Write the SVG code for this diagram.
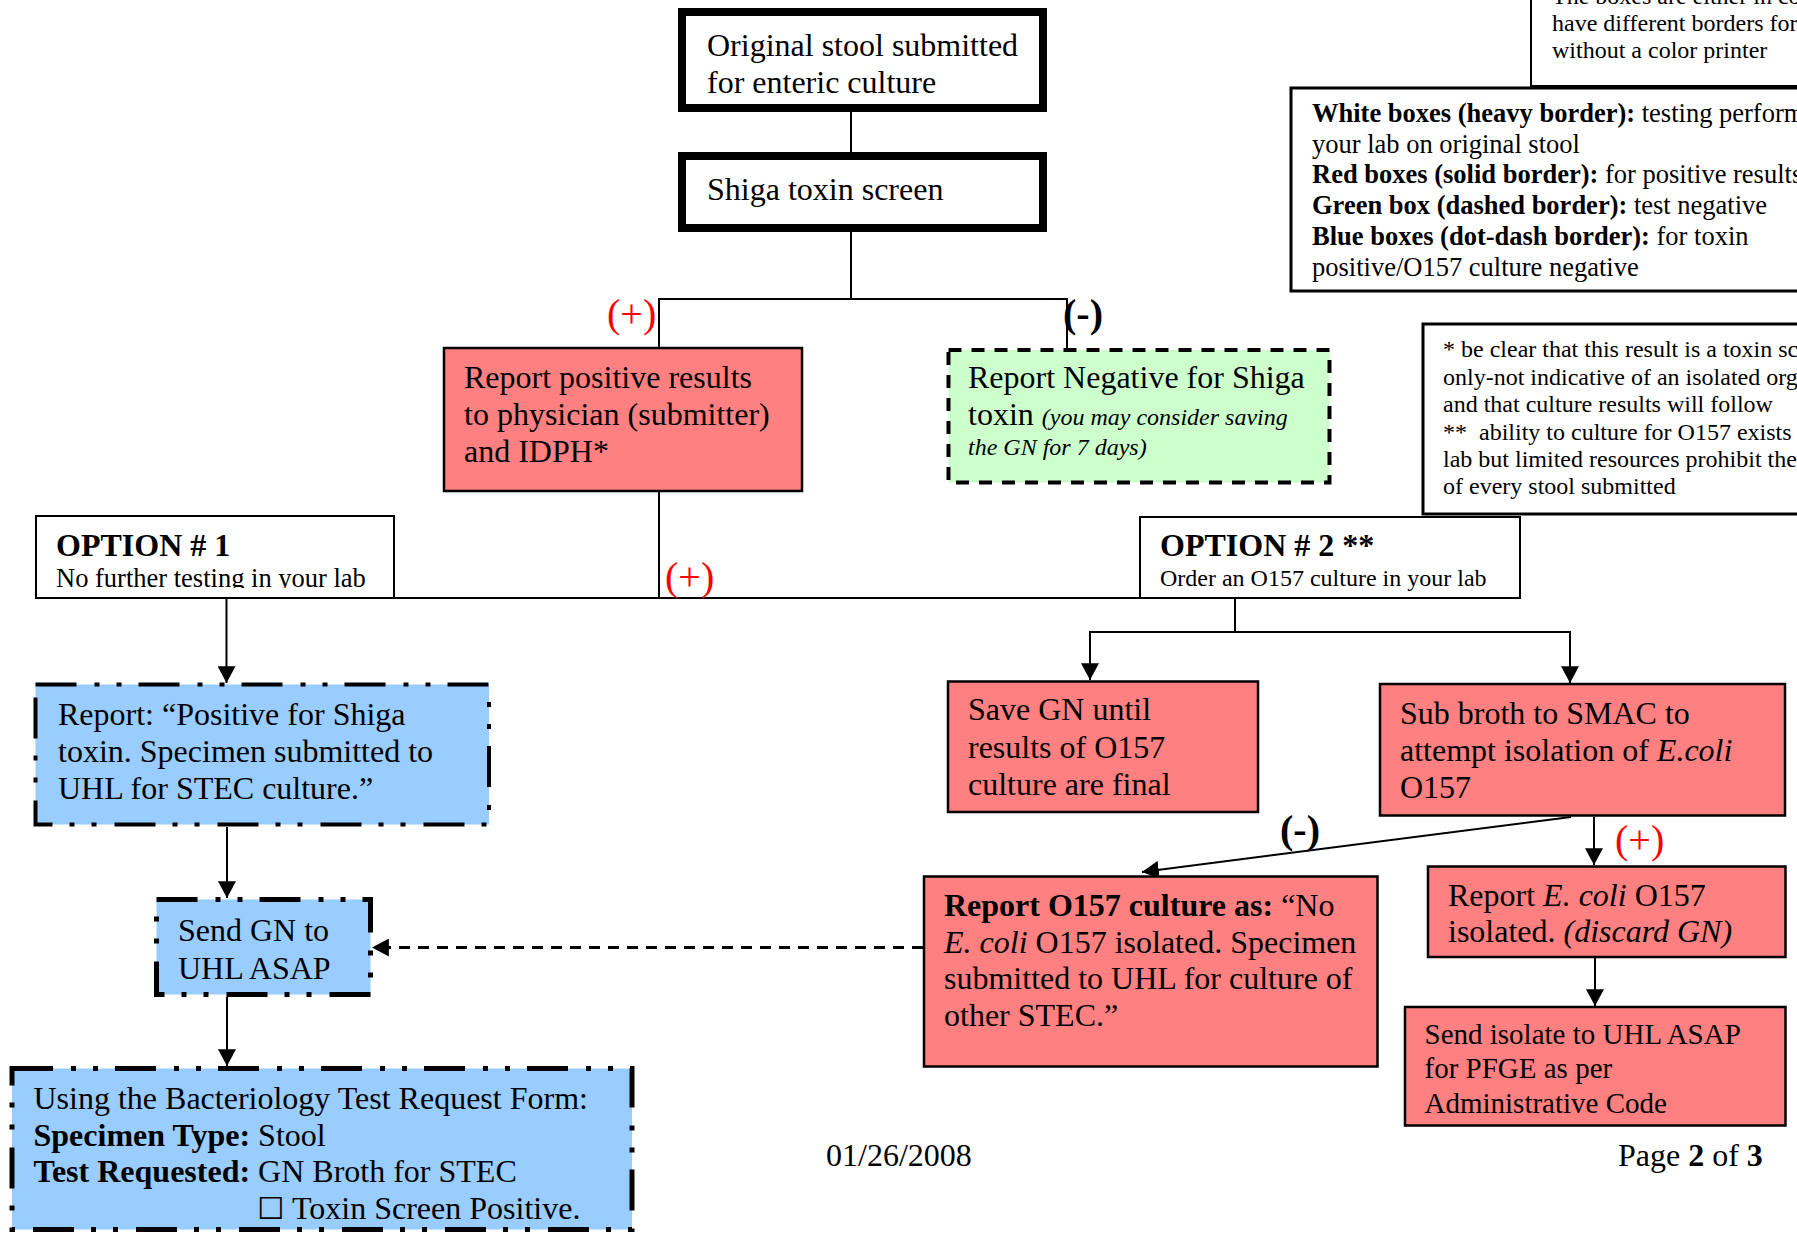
<svg xmlns="http://www.w3.org/2000/svg" width="1797" height="1233" viewBox="0 0 1797 1233">
<style>
text { font-family: "Liberation Serif", "Times New Roman", serif; font-size: 32px; fill: #000; }
.s24 { font-size: 24px; }
.s26 { font-size: 26.5px; }
.s29 { font-size: 29px; }
.lab { font-size: 40px; }
.red { fill: #FF0000; }
.b { font-weight: bold; }
.i { font-style: italic; }
.heavy { fill: #FFFFFF; stroke: #000; stroke-width: 8; }
.thin { fill: #FFFFFF; stroke: #000; stroke-width: 2; }
.note { fill: #FFFFFF; stroke: #000; stroke-width: 3; }
.pos { fill: #FF8080; stroke: #000; stroke-width: 2.5; }
.neg { fill: #CCFFCC; stroke: #000; stroke-width: 4; stroke-dasharray: 13 10; }
.blue { fill: #99CCFF; stroke: #000; stroke-dasharray: 41 18 5 17 5 17; }
.conn { fill: none; stroke: #000; stroke-width: 2; }
.dash { stroke-width: 3; stroke-dasharray: 11 8; }
</style>
<defs>
<marker id="arr" markerUnits="userSpaceOnUse" markerWidth="18" markerHeight="18" refX="15" refY="8" orient="auto" viewBox="0 0 16 16">
<path d="M0,0 L15,8 L0,16 Z" fill="#000"/>
</marker>
<clipPath id="clip1"><rect x="36" y="516" width="358" height="72"/></clipPath>
</defs>

<g id="connectors">
<line class="conn" x1="851" y1="112" x2="851" y2="152"/>
<polyline class="conn" points="659,347 659,299 1067,299 1067,348"/>
<line class="conn" x1="851" y1="232" x2="851" y2="299"/>
<line class="conn" x1="659" y1="492" x2="659" y2="598"/>
<line class="conn" x1="35" y1="598" x2="1140" y2="598" stroke-width="2.5"/>
<line class="conn" x1="226.5" y1="598" x2="226.5" y2="683" marker-end="url(#arr)"/>
<line class="conn" x1="1235" y1="598" x2="1235" y2="632"/>
<line class="conn" x1="1089" y1="632" x2="1571" y2="632"/>
<line class="conn" x1="1090" y1="632" x2="1090" y2="680" marker-end="url(#arr)"/>
<line class="conn" x1="1570" y1="632" x2="1570" y2="683" marker-end="url(#arr)"/>
<line class="conn" x1="227" y1="827" x2="227" y2="898" marker-end="url(#arr)"/>
<line class="conn" x1="227" y1="997" x2="227" y2="1066" marker-end="url(#arr)"/>
<line class="conn dash" x1="923" y1="947.5" x2="372" y2="947.5" marker-end="url(#arr)"/>
<line class="conn" x1="1571" y1="817" x2="1142" y2="872" stroke-width="2.5" marker-end="url(#arr)"/>
<line class="conn" x1="1594" y1="817" x2="1594" y2="865" marker-end="url(#arr)"/>
<line class="conn" x1="1595" y1="958" x2="1595" y2="1006" marker-end="url(#arr)"/>
<text class="lab red" x="607" y="327">(+)</text>
<text class="lab b" x="1063" y="327">(-)</text>
<text class="lab red" x="665" y="590">(+)</text>
<text class="lab b" x="1280" y="843">(-)</text>
<text class="lab red" x="1615" y="853">(+)</text>
</g>

<g id="colorNote">
<rect class="thin" x="1531" y="-10" width="400" height="96"/>
<text class="s24" x="1552" y="4">The boxes are either in co</text>
<text class="s24" x="1552" y="31">have different borders for</text>
<text class="s24" x="1552" y="58">without a color printer</text>
</g>

<g id="legend">
<rect class="note" x="1291" y="88" width="600" height="203"/>
<text class="s26" x="1312" y="122"><tspan class="b">White boxes (heavy border):</tspan> testing perform</text>
<text class="s26" x="1312" y="152.5">your lab on original stool</text>
<text class="s26" x="1312" y="183"><tspan class="b">Red boxes (solid border):</tspan> for positive results</text>
<text class="s26" x="1312" y="214"><tspan class="b">Green box (dashed border):</tspan> test negative</text>
<text class="s26" x="1312" y="245"><tspan class="b">Blue boxes (dot-dash border):</tspan> for toxin</text>
<text class="s26" x="1312" y="275.5">positive/O157 culture negative</text>
</g>

<g id="footnotes">
<rect class="note" x="1423" y="324" width="500" height="190"/>
<text class="s24" x="1443" y="357">* be clear that this result is a toxin sc</text>
<text class="s24" x="1443" y="384.5">only-not indicative of an isolated org</text>
<text class="s24" x="1443" y="412">and that culture results will follow</text>
<text class="s24" x="1443" y="440">**&#160; ability to culture for O157 exists</text>
<text class="s24" x="1443" y="467">lab but limited resources prohibit the</text>
<text class="s24" x="1443" y="494">of every stool submitted</text>
</g>

<g id="original">
<rect class="heavy" x="682" y="12" width="361" height="96"/>
<text x="707" y="56">Original stool submitted</text>
<text x="707" y="93">for enteric culture</text>
</g>

<g id="shigaScreen">
<rect class="heavy" x="682" y="156" width="361" height="72"/>
<text x="707" y="200">Shiga toxin screen</text>
</g>

<g id="reportPositive">
<rect class="pos" x="444" y="348" width="358" height="143"/>
<text x="464" y="387.5">Report positive results</text>
<text x="464" y="424.5">to physician (submitter)</text>
<text x="464" y="462">and IDPH*</text>
</g>

<g id="reportNegative">
<rect class="neg" x="948.5" y="350" width="381" height="132.5"/>
<text x="968" y="388">Report Negative for Shiga</text>
<text x="968" y="425">toxin <tspan class="s24 i">(you may consider saving</tspan></text>
<text class="s24 i" x="968" y="455">the GN for 7 days)</text>
</g>

<g id="option1">
<rect class="thin" x="36" y="516" width="358" height="82"/>
<text class="b" x="56" y="556">OPTION # 1</text>
<text class="s26" x="56" y="586.5" clip-path="url(#clip1)">No further testing in your lab</text>
</g>

<g id="option2">
<rect class="thin" x="1140" y="517" width="380" height="81"/>
<text class="b" x="1160" y="555.5">OPTION # 2 **</text>
<text class="s24" x="1160" y="585.5">Order an O157 culture in your lab</text>
</g>

<g id="reportToxinPositive">
<rect class="blue" stroke-width="4" x="35.5" y="684.5" width="453.5" height="140"/>
<text x="58" y="725">Report: “Positive for Shiga</text>
<text x="58" y="762">toxin. Specimen submitted to</text>
<text x="58" y="799">UHL for STEC culture.”</text>
</g>

<g id="sendGN">
<rect class="blue" stroke-width="5" x="156.5" y="899.5" width="214" height="95"/>
<text x="178" y="941">Send GN to</text>
<text x="178" y="978.5">UHL ASAP</text>
</g>

<g id="requestForm">
<rect class="blue" stroke-width="5" x="12" y="1068.5" width="620" height="161"/>
<text x="33.5" y="1109">Using the Bacteriology Test Request Form:</text>
<text x="33.5" y="1146"><tspan class="b">Specimen Type:</tspan> Stool</text>
<text x="33.5" y="1182"><tspan class="b">Test Requested:</tspan> GN Broth for STEC</text>
<text x="257" y="1219" style="font-family:'DejaVu Sans',sans-serif;font-size:30.5px">☐</text>
<text x="292" y="1218.5">Toxin Screen Positive.</text>
</g>

<g id="saveGN">
<rect class="pos" x="948" y="681.5" width="310" height="130.5"/>
<text x="968" y="720">Save GN until</text>
<text x="968" y="757.5">results of O157</text>
<text x="968" y="795">culture are final</text>
</g>

<g id="subBroth">
<rect class="pos" x="1380" y="684" width="405" height="131.5"/>
<text x="1400" y="724">Sub broth to SMAC to</text>
<text x="1400" y="761">attempt isolation of <tspan class="i">E.coli</tspan></text>
<text x="1400" y="798">O157</text>
</g>

<g id="reportO157Negative">
<rect class="pos" x="924" y="876.5" width="453.5" height="190"/>
<text x="944" y="916"><tspan class="b">Report O157 culture as:</tspan> “No</text>
<text x="944" y="952.5"><tspan class="i">E. coli</tspan> O157 isolated. Specimen</text>
<text x="944" y="989">submitted to UHL for culture of</text>
<text x="944" y="1026">other STEC.”</text>
</g>

<g id="reportEcoli">
<rect class="pos" x="1428" y="866.5" width="357.5" height="90.5"/>
<text x="1448" y="905.5">Report <tspan class="i">E. coli</tspan> O157</text>
<text x="1448" y="942">isolated. <tspan class="i">(discard GN)</tspan></text>
</g>

<g id="sendIsolate">
<rect class="pos" x="1405" y="1007" width="380.5" height="118.5"/>
<text class="s29" x="1424.5" y="1043.5">Send isolate to UHL ASAP</text>
<text class="s29" x="1424.5" y="1078">for PFGE as per</text>
<text class="s29" x="1424.5" y="1112.5">Administrative Code</text>
</g>

<g id="footer">
<text x="826" y="1166">01/26/2008</text>
<text x="1618" y="1166">Page <tspan class="b">2</tspan> of <tspan class="b">3</tspan></text>
</g>
</svg>
